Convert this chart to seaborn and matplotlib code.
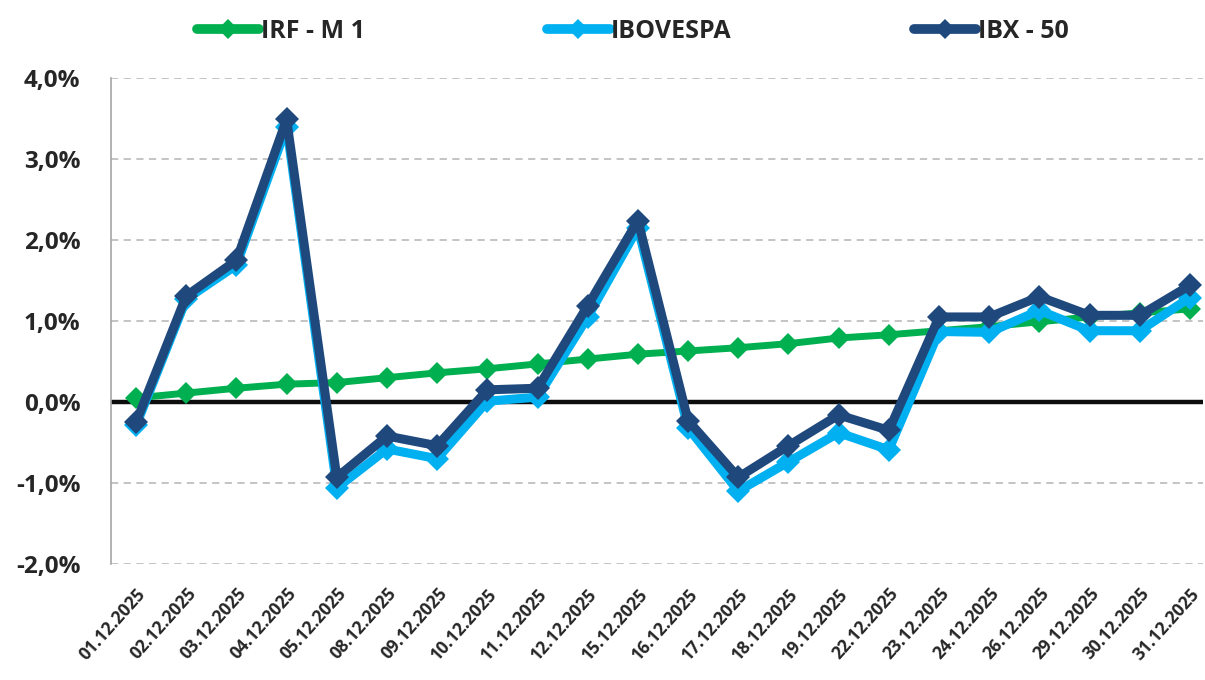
import matplotlib
matplotlib.use("Agg")
import matplotlib.pyplot as plt
import seaborn as sns
import pandas as pd
import numpy as np
from matplotlib.ticker import FuncFormatter

dates = ["01.12.2025", "02.12.2025", "03.12.2025", "04.12.2025", "05.12.2025",
         "08.12.2025", "09.12.2025", "10.12.2025", "11.12.2025", "12.12.2025",
         "15.12.2025", "16.12.2025", "17.12.2025", "18.12.2025", "19.12.2025",
         "22.12.2025", "23.12.2025", "24.12.2025", "26.12.2025", "29.12.2025",
         "30.12.2025", "31.12.2025"]
irf_m1 = [0.05, 0.11, 0.17, 0.22, 0.24, 0.30, 0.36, 0.41, 0.47, 0.53, 0.59,
          0.63, 0.67, 0.72, 0.79, 0.83, 0.88, 0.93, 0.99, 1.05, 1.10, 1.15]
ibovespa = [-0.29, 1.27, 1.69, 3.40, -1.06, -0.58, -0.70, 0.01, 0.06, 1.05, 2.15,
            -0.32, -1.10, -0.74, -0.38, -0.59, 0.87, 0.86, 1.13, 0.88, 0.88, 1.29]
ibx50 = [-0.25, 1.31, 1.75, 3.49, -0.93, -0.42, -0.54, 0.15, 0.17, 1.19, 2.24,
         -0.23, -0.93, -0.54, -0.16, -0.35, 1.05, 1.05, 1.30, 1.07, 1.07, 1.44]
series_names = ["IRF - M 1", "IBOVESPA", "IBX - 50"]
colors = ["#00B050", "#00B0F0", "#1F497D"]

df = pd.concat([
    pd.DataFrame({"x": np.arange(len(dates)), "valor": vals, "serie": name})
    for name, vals in zip(series_names, [irf_m1, ibovespa, ibx50])
])

sns.set_theme(style="white")
plt.rcParams["font.family"] = ["Open Sans", "DejaVu Sans"]

fig = plt.figure(figsize=(12.05, 6.8), dpi=100)
ax = fig.add_axes([111/1205, 1 - 564/680, (1203-111)/1205, (564-78)/680])

for y in [-2, -1, 1, 2, 3, 4]:
    ax.axhline(y, color="#BFBFBF", lw=1.3, ls=(0, (4, 3)), zorder=1)
ax.axhline(0, color="#0D0D0D", lw=3.2, zorder=1.5)

sns.lineplot(data=df, x="x", y="valor", hue="serie", hue_order=series_names,
             palette=colors, style="serie", markers=["D", "D", "D"], dashes=False,
             ax=ax, legend=False, zorder=3)
lws = [5.0, 6.5, 6.5]
mss = [11, 12.5, 12.5]
for line, lw, ms in zip(ax.get_lines()[-3:], lws, mss):
    line.set_linewidth(lw)
    line.set_markersize(ms)
    line.set_markeredgewidth(0)
    line.set_solid_joinstyle("round")

ax.set_xlim(-0.5, 21.26)
ax.set_ylim(-2, 4)
ax.set_yticks([-2, -1, 0, 1, 2, 3, 4])
ax.yaxis.set_major_formatter(FuncFormatter(lambda v, p: f"{v:.1f}%".replace(".", ",")))
ax.set_xticks(np.arange(len(dates)))
ax.set_xticklabels(dates, rotation=48, ha="right", rotation_mode="anchor")
ax.tick_params(axis="y", labelsize=17.5, pad=22, length=0)
ax.tick_params(axis="x", labelsize=12.5, pad=15, length=0)
for lab in ax.get_yticklabels() + ax.get_xticklabels():
    lab.set_fontweight("bold")
ax.set_xlabel("")
ax.set_ylabel("")
for s in ["top", "right", "bottom"]:
    ax.spines[s].set_visible(False)
ax.spines["left"].set_color("#A6A6A6")
ax.spines["left"].set_linewidth(1.2)

handles = [plt.Line2D([], [], color=c, lw=7, marker="D", ms=10, markeredgewidth=0,
                      solid_capstyle="round") for c in colors]
leg = fig.legend(handles, series_names, loc="upper center", ncol=3,
                 bbox_to_anchor=(0.525, 1.005), frameon=False, handlelength=2.5,
                 handletextpad=0.05, columnspacing=7.3,
                 prop={"weight": "bold", "size": 18})

fig.savefig("out.png", dpi=100)
